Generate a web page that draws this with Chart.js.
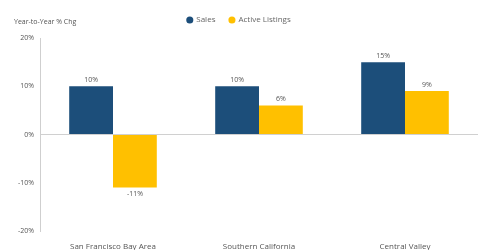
<!DOCTYPE html>
<html>
<head>
<meta charset="utf-8">
<script src="https://cdn.jsdelivr.net/npm/chart.js@4.4.0/dist/chart.umd.min.js"></script>
<style>
  html, body { margin: 0; padding: 0; background: #fff; }
  #wrap { width: 478px; height: 250px; position: relative; }
</style>
</head>
<body>
<div id="wrap"><canvas id="chart"></canvas></div>
<script>
const regions = ["San Francisco Bay Area", "Southern California", "Central Valley"];
const sales = [10, 10, 15];
const activeListings = [-11, 6, 9];
const yTicks = [-20, -10, 0, 10, 20];
const axisTitle = "Year-to-Year % Chg";

const FONT = "'Open Sans', sans-serif";

// a little extra room under the legend
const legendGap = {
  id: "legendGap",
  beforeUpdate(chart) {
    const lg = chart.legend;
    if (lg && !lg._gapPatched) {
      const fit = lg.fit;
      lg.fit = function () {
        fit.call(this);
        this.height += 4;
      };
      lg._gapPatched = true;
    }
  }
};

const barLabels = {
  id: "barLabels",
  afterDatasetsDraw(chart) {
    const ctx = chart.ctx;
    ctx.save();
    ctx.font = "7px " + FONT;
    ctx.fillStyle = "#555";
    ctx.textAlign = "center";
    chart.data.datasets.forEach((ds, i) => {
      chart.getDatasetMeta(i).data.forEach((bar, j) => {
        const v = ds.data[j];
        if (v >= 0) {
          ctx.textBaseline = "bottom";
          ctx.fillText(v + "%", bar.x, bar.y - 3);
        } else {
          ctx.textBaseline = "top";
          ctx.fillText(v + "%", bar.x, bar.y + 3);
        }
      });
    });
    ctx.textAlign = "left";
    ctx.textBaseline = "middle";
    ctx.fillText(axisTitle, 14, 22);
    ctx.restore();
  }
};

new Chart(document.getElementById("chart"), {
  type: "bar",
  data: {
    labels: regions,
    datasets: [
      { label: "Sales", data: sales, backgroundColor: "#1c4e7a", categoryPercentage: 0.6, barPercentage: 1 },
      { label: "Active Listings", data: activeListings, backgroundColor: "#ffc000", categoryPercentage: 0.6, barPercentage: 1 }
    ]
  },
  options: {
    responsive: true,
    maintainAspectRatio: false,
    animation: false,
    layout: { padding: { top: 2, right: 0, left: 0, bottom: 0 } },
    plugins: {
      legend: {
        position: "top",
        labels: {
          usePointStyle: true,
          pointStyle: "circle",
          boxWidth: 5,
          boxHeight: 5,
          padding: 14,
          color: "#666",
          font: { family: FONT, size: 8 }
        }
      },
      tooltip: { enabled: false }
    },
    scales: {
      x: {
        grid: { display: false },
        border: { display: false },
        ticks: { color: "#555", font: { family: FONT, size: 8 }, padding: 3 },
        afterFit(scale) { scale.height = 19; }
      },
      y: {
        min: -20,
        max: 20,
        afterBuildTicks(scale) { scale.ticks = yTicks.map((v) => ({ value: v })); },
        ticks: {
          color: "#555",
          font: { family: FONT, size: 7 },
          callback: (v) => v + "%",
          padding: 6
        },
        grid: {
          drawOnChartArea: true,
          color: (c) => (c.tick && c.tick.value === 0 ? "#d0d0d0" : "rgba(0,0,0,0)"),
          tickLength: 0
        },
        border: { display: true, color: "#cfcfcf" },
        afterFit(scale) { scale.width = 40; }
      }
    }
  },
  plugins: [legendGap, barLabels]
});
</script>
</body>
</html>
